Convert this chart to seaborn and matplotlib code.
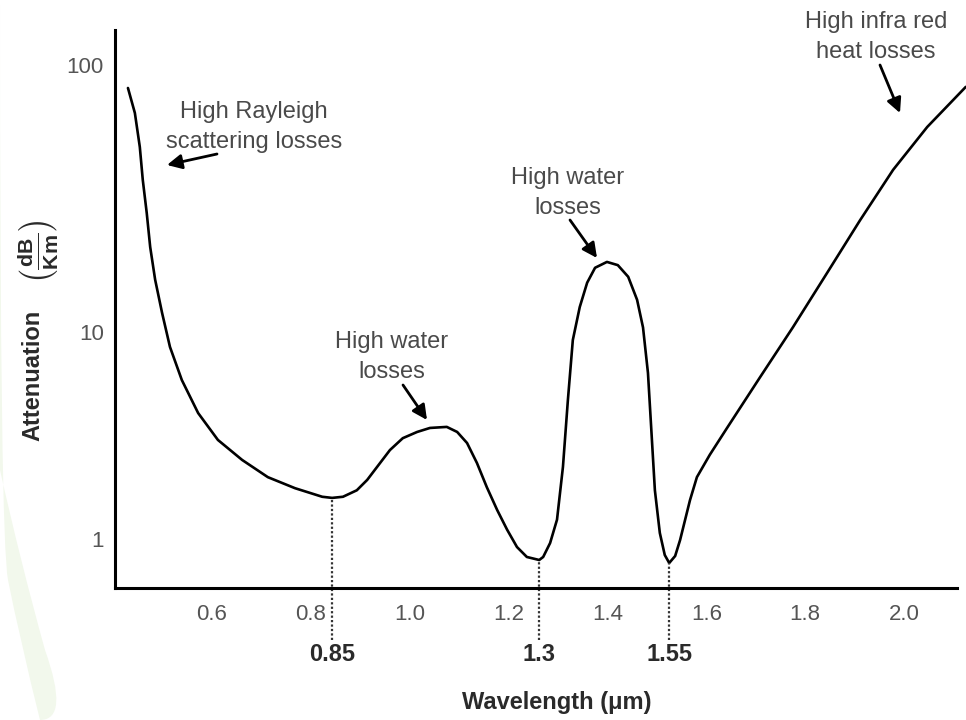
import numpy as np
import pandas as pd
import matplotlib
matplotlib.use("Agg")
import matplotlib.pyplot as plt
from matplotlib.patches import PathPatch
from matplotlib.path import Path
import seaborn as sns

# Attenuation curve (wavelength in um, attenuation in dB/km)
wavelength = [0.430, 0.444, 0.454, 0.460, 0.468, 0.475, 0.485, 0.499, 0.515, 0.539,
              0.572, 0.612, 0.661, 0.713, 0.768, 0.823, 0.843, 0.865, 0.893, 0.914,
              0.934, 0.960, 0.986, 1.015, 1.041, 1.075, 1.096, 1.116, 1.136, 1.156,
              1.177, 1.197, 1.217, 1.237, 1.262, 1.270, 1.284, 1.298, 1.310, 1.320,
              1.330, 1.344, 1.359, 1.375, 1.399, 1.421, 1.442, 1.460, 1.472, 1.482,
              1.490, 1.496, 1.506, 1.516, 1.525, 1.537, 1.547, 1.567, 1.581, 1.607,
              1.642, 1.709, 1.775, 1.844, 1.911, 1.978, 2.047, 2.125]
attenuation = [82.0, 66.1, 49.3, 37.1, 27.9, 20.8, 15.7, 11.8, 8.47, 5.86,
               4.06, 3.01, 2.41, 1.99, 1.76, 1.60, 1.58, 1.60, 1.72, 1.93,
               2.23, 2.69, 3.07, 3.29, 3.44, 3.48, 3.29, 2.91, 2.33, 1.78,
               1.38, 1.11, 0.915, 0.819, 0.792, 0.819, 0.956, 1.24, 2.23, 4.69,
               9.15, 12.4, 15.3, 17.4, 18.3, 17.8, 16.1, 13.2, 10.4, 6.34,
               3.01, 1.72, 1.07, 0.837, 0.766, 0.828, 0.989, 1.54, 1.99, 2.55,
               3.44, 6.06, 10.4, 16.6, 26.2, 40.5, 58.6, 82.8]

# low loss windows marked under the axis
window_pos = [0.843, 1.262, 1.525]
window_min = [1.58, 0.792, 0.766]
window_labels = ["0.85", "1.3", "1.55"]

x_ticks = [0.6, 0.8, 1.0, 1.2, 1.4, 1.6, 1.8, 2.0]
x_tick_labels = ["0.6", "0.8", "1.0", "1.2", "1.4", "1.6", "1.8", "2.0"]
y_ticks = [1, 10, 100]
y_tick_labels = ["1", "10", "100"]

df = pd.DataFrame({"wavelength": wavelength, "attenuation": attenuation})

# the drawing's decades are uneven (1->10 shorter than 10->100)
LOG_PTS = [-3, 0, 1, 2, 5]
POS_PTS = [-621, 0, 207, 474, 1275]


def fwd(v):
    v = np.asarray(v, dtype=float)
    return np.interp(np.log10(np.clip(v, 1e-9, None)), LOG_PTS, POS_PTS)


def inv(p):
    return 10 ** np.interp(np.asarray(p, dtype=float), POS_PTS, LOG_PTS)


sns.set_style("white")
plt.rcParams["font.family"] = ["Liberation Sans", "DejaVu Sans"]
plt.rcParams["mathtext.fontset"] = "custom"
plt.rcParams["mathtext.rm"] = "Liberation Sans"
plt.rcParams["mathtext.bf"] = "Liberation Sans:bold"

W, H = 966, 720
fig = plt.figure(figsize=(W / 100, H / 100), dpi=100)
ax = fig.add_axes([115 / W, 132 / H, (W - 115) / W, 558 / H])

# faint green swirl in the lower left corner
verts = [(0, 470), (20, 560), (45, 650), (70, 720), (40, 720),
         (20, 640), (8, 580), (0, 540), (0, 470)]
verts = [(x / W, 1 - y / H) for x, y in verts]
codes = [Path.MOVETO, Path.CURVE3, Path.CURVE3, Path.CURVE3, Path.LINETO,
         Path.CURVE3, Path.CURVE3, Path.CURVE3, Path.CLOSEPOLY]
fig.patches.append(PathPatch(Path(verts, codes), transform=fig.transFigure,
                             facecolor="#f2f8ec", edgecolor="none", zorder=0))

sns.lineplot(data=df, x="wavelength", y="attenuation", ax=ax, color="black",
             linewidth=1.9, estimator=None, sort=False)
ax.lines[0].set_solid_joinstyle("round")

ax.set_yscale("function", functions=(fwd, inv))
ax.set_xlim(0.4038, 2.1254)
ax.set_ylim(0.58, 135.2)

ax.set_xticks(x_ticks)
ax.set_xticklabels(x_tick_labels)
ax.set_yticks(y_ticks)
ax.set_yticklabels(y_tick_labels)
ax.minorticks_off()
ax.set_xlabel("")
ax.set_ylabel("")

sns.despine(ax=ax)
for side in ["left", "bottom"]:
    ax.spines[side].set_linewidth(2.2)
    ax.spines[side].set_color("black")
ax.spines["bottom"].set_bounds(0.4038, 2.107)

ax.tick_params(axis="both", direction="inout", length=13, width=2, color="black",
               labelsize=16, labelcolor="#555555")
ax.tick_params(axis="x", pad=5)
ax.tick_params(axis="y", pad=2, length=12)

# dotted drop lines at the low-loss windows
ax.vlines(window_pos, 0.325, window_min, colors="#333333", linewidth=1.6,
          linestyles=(0, (1, 1)), clip_on=False)
for xp, lab in zip(window_pos, window_labels):
    ax.text(xp, -0.12, lab, transform=ax.get_xaxis_transform(), ha="center",
            va="center", fontsize=17, fontweight="bold", color="#2a2a2a")

fig.text(557 / W, 1 - 702 / H, "Wavelength (μm)", ha="center", va="center",
         fontsize=17, fontweight="bold", color="#2a2a2a")
fig.text(33 / W, 1 - 375 / H, "Attenuation", rotation=90, ha="center", va="center",
         fontsize=17, fontweight="bold", color="#2a2a2a")
fig.text(38 / W, 1 - 252 / H, r"$\left(\frac{\mathbf{dB}}{\mathbf{Km}}\right)$",
         rotation=90, ha="center", va="center", fontsize=22, color="#2a2a2a")

# annotations with arrows
notes = [
    ("High Rayleigh\nscattering losses", (254, 127), (217, 154), (167, 165)),
    ("High water\nlosses", (392, 357), (403, 385), (427, 420)),
    ("High water\nlosses", (568, 193), (570, 220), (597, 258)),
    ("High infra red\nheat losses", (876, 37), (880, 65), (900, 113)),
]
for text, pos, tail, head in notes:
    fig.text(pos[0] / W, 1 - pos[1] / H, text, ha="center", va="center",
             fontsize=17, color="#4a4a4a", linespacing=1.45)
    ax.annotate("", xy=(head[0], H - head[1]), xycoords="figure pixels",
                xytext=(tail[0], H - tail[1]), textcoords="figure pixels",
                arrowprops=dict(arrowstyle="-|>", color="black", lw=2,
                                mutation_scale=22, shrinkA=0, shrinkB=0))

fig.savefig("out.png", dpi=100)
